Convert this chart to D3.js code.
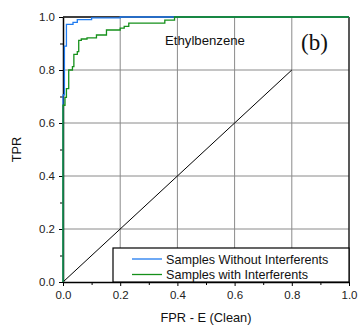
<!DOCTYPE html>
<html>
<head>
<meta charset="utf-8">
<script src="https://cdn.jsdelivr.net/npm/d3@7"></script>
<style>
  body { margin: 0; background: #fff; }
  svg { display: block; font-family: "Liberation Sans", Arial, sans-serif; }
</style>
</head>
<body>
<script>
// ROC data
let fprClean = [0, 0, 0.005, 0.005, 0.012, 0.012, 0.035, 0.035, 0.05, 0.05, 0.1, 0.1, 0.2, 0.2, 1.0];
let tprClean = [0, 0.706, 0.706, 0.89, 0.89, 0.972, 0.972, 0.98, 0.98, 0.99, 0.99, 0.997, 0.997, 1.0, 1.0];

let fprInterf = [0, 0, 0.007, 0.007, 0.012, 0.012, 0.02, 0.02, 0.033, 0.033, 0.038, 0.038, 0.05, 0.05,
    0.055, 0.055, 0.064, 0.064, 0.084, 0.084, 0.117, 0.117, 0.152, 0.152, 0.2, 0.2, 0.214, 0.214,
    0.23, 0.23, 0.356, 0.356, 0.39, 0.39, 1.0];
let tprInterf = [0, 0.667, 0.667, 0.697, 0.697, 0.73, 0.73, 0.80, 0.80, 0.813, 0.813, 0.859, 0.859, 0.869,
    0.869, 0.912, 0.912, 0.917, 0.917, 0.921, 0.921, 0.932, 0.932, 0.951, 0.951, 0.958, 0.958, 0.965,
    0.965, 0.977, 0.977, 0.988, 0.988, 1.0, 1.0];

let diagX = [0, 0.8];
let diagY = [0, 0.8];

let majorTicks = [0, 0.2, 0.4, 0.6, 0.8, 1.0];
let minorTicks = [0.1, 0.3, 0.5, 0.7, 0.9];
let gridTicks = [0.2, 0.4, 0.6, 0.8];

let seriesNames = ["Samples Without Interferents", "Samples with Interferents"];
let seriesColors = ["#1f7bf0", "#15901a"];

let width = 358;
let height = 329;
let marginTop = 17;
let marginRight = 9;
let marginBottom = 47;
let marginLeft = 63;

let x = d3.scaleLinear().domain([0, 1]).range([marginLeft, width - marginRight]);
let y = d3.scaleLinear().domain([0, 1]).range([height - marginBottom, marginTop]);

let svg = d3.select("body").append("svg")
    .attr("width", width)
    .attr("height", height)
    .attr("viewBox", [0, 0, width, height]);

// grid
svg.append("g")
    .selectAll("line")
    .data(gridTicks)
    .join("line")
    .attr("x1", d => x(d)).attr("x2", d => x(d))
    .attr("y1", y(0)).attr("y2", y(1))
    .attr("stroke", "#8a8a8a");
svg.append("g")
    .selectAll("line")
    .data(gridTicks)
    .join("line")
    .attr("x1", x(0)).attr("x2", x(1))
    .attr("y1", d => y(d)).attr("y2", d => y(d))
    .attr("stroke", "#8a8a8a");

// frame (top / right)
svg.append("line")
    .attr("x1", x(0)).attr("x2", x(1))
    .attr("y1", y(1)).attr("y2", y(1))
    .attr("stroke", "#000").attr("stroke-width", 1.5);
svg.append("line")
    .attr("x1", x(1)).attr("x2", x(1))
    .attr("y1", y(1)).attr("y2", y(0))
    .attr("stroke", "#222").attr("stroke-width", 1.5);

// axes
let fmt = d3.format(".1f");
svg.append("g")
    .attr("transform", `translate(0,${y(0)})`)
    .call(d3.axisBottom(x).tickValues(minorTicks).tickSize(3).tickFormat(""))
    .call(g => g.select(".domain").remove());
svg.append("g")
    .attr("transform", `translate(${x(0)},0)`)
    .call(d3.axisLeft(y).tickValues(minorTicks).tickSize(3).tickFormat(""))
    .call(g => g.select(".domain").remove());

svg.append("g")
    .attr("transform", `translate(0,${y(0)})`)
    .call(d3.axisBottom(x).tickValues(majorTicks).tickSize(4).tickSizeOuter(0).tickFormat(fmt))
    .call(g => g.select(".domain").attr("stroke-width", 1.5))
    .call(g => g.selectAll("text").attr("font-size", 11.5).attr("fill", "#222").attr("dy", "0.9em"));
svg.append("g")
    .attr("transform", `translate(${x(0)},0)`)
    .call(d3.axisLeft(y).tickValues(majorTicks).tickSize(4).tickSizeOuter(0).tickFormat(fmt))
    .call(g => g.select(".domain").attr("stroke-width", 1.5))
    .call(g => g.selectAll("text").attr("font-size", 11.5).attr("fill", "#222").attr("x", -8));

// diagonal
svg.append("path")
    .attr("d", d3.line().x(d => x(d[0])).y(d => y(d[1]))(d3.zip(diagX, diagY)))
    .attr("fill", "none")
    .attr("stroke", "#000")
    .attr("stroke-width", 1);

// ROC curves
let line = d3.line().x(d => x(d[0])).y(d => y(d[1]));
let curves = [d3.zip(fprClean, tprClean), d3.zip(fprInterf, tprInterf)];
curves.forEach((c, i) => {
    svg.append("path")
        .attr("d", line(c))
        .attr("fill", "none")
        .attr("stroke", seriesColors[i])
        .attr("stroke-width", 1.3);
});

// labels
svg.append("text")
    .attr("x", 165)
    .attr("y", 45)
    .attr("font-size", 13.2)
    .attr("fill", "#111")
    .text("Ethylbenzene");

svg.append("text")
    .attr("x", 301)
    .attr("y", 50)
    .attr("font-family", "'Liberation Serif', 'Times New Roman', serif")
    .attr("font-size", 23)
    .attr("fill", "#111")
    .text("(b)");

svg.append("text")
    .attr("x", (x(0) + x(1)) / 2)
    .attr("y", 322)
    .attr("text-anchor", "middle")
    .attr("font-size", 12.8)
    .attr("fill", "#111")
    .text("FPR - E (Clean)");

svg.append("text")
    .attr("transform", `translate(21,${(y(0) + y(1)) / 2}) rotate(-90)`)
    .attr("text-anchor", "middle")
    .attr("font-size", 12.8)
    .attr("fill", "#111")
    .text("TPR");

// legend
let legend = svg.append("g");
legend.append("rect")
    .attr("x", 113)
    .attr("y", 248)
    .attr("width", x(1) - 113)
    .attr("height", y(0) - 248)
    .attr("fill", "#fff")
    .attr("stroke", "#000")
    .attr("stroke-width", 1.2);

seriesNames.forEach((name, i) => {
    let ly = 259 + i * 15.5;
    legend.append("line")
        .attr("x1", 132).attr("x2", 162)
        .attr("y1", ly).attr("y2", ly)
        .attr("stroke", seriesColors[i])
        .attr("stroke-width", 1.3);
    legend.append("text")
        .attr("x", 166)
        .attr("y", ly + 4.5)
        .attr("font-size", 12.6)
        .attr("fill", "#111")
        .text(name);
});
</script>
</body>
</html>
